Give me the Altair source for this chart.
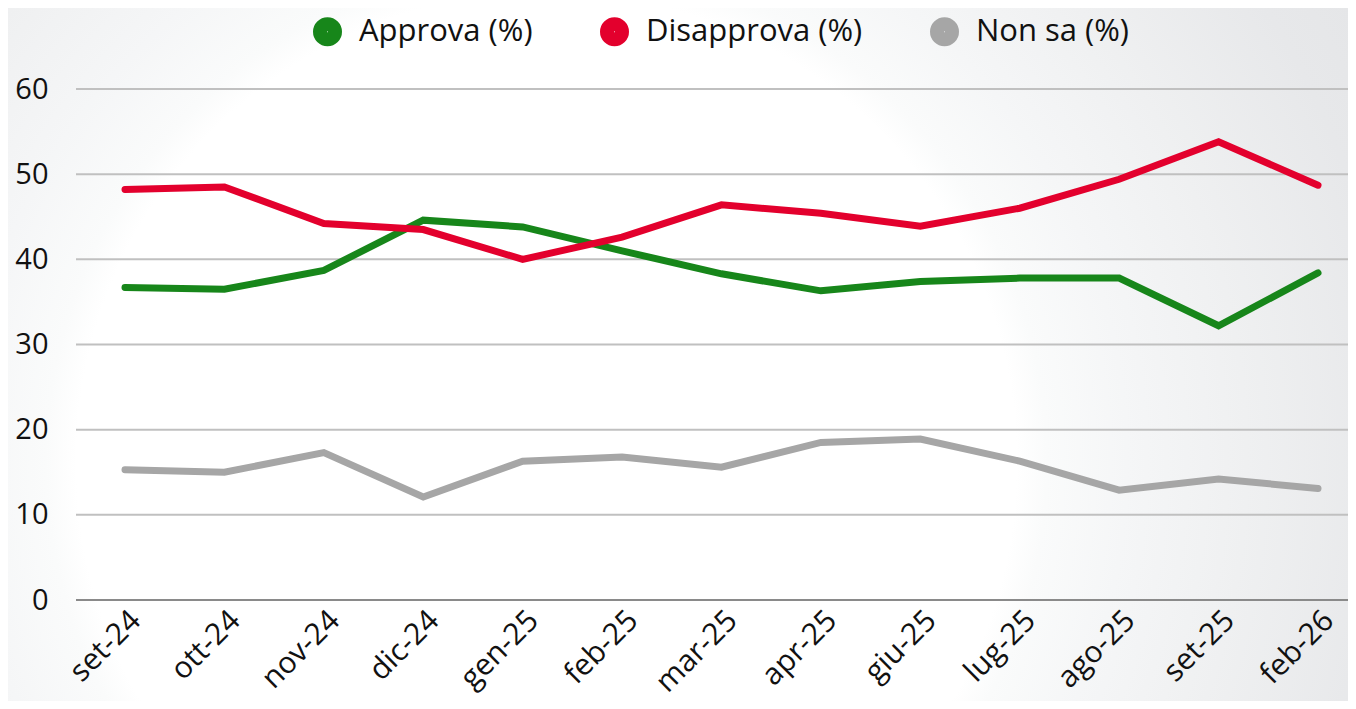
import altair as alt
import pandas as pd

months = ["set-24", "ott-24", "nov-24", "dic-24", "gen-25", "feb-25", "mar-25",
          "apr-25", "giu-25", "lug-25", "ago-25", "set-25", "feb-26"]
approva = [36.7, 36.5, 38.7, 44.6, 43.8, 41.0, 38.3, 36.3, 37.4, 37.8, 37.8, 32.2, 38.4]
disapprova = [48.2, 48.5, 44.2, 43.5, 40.0, 42.6, 46.4, 45.4, 43.9, 46.0, 49.4, 53.8, 48.7]
non_sa = [15.3, 15.0, 17.3, 12.1, 16.3, 16.8, 15.6, 18.5, 18.9, 16.3, 12.9, 14.2, 13.1]
series = ["Approva (%)", "Disapprova (%)", "Non sa (%)"]
colors = ["#17861a", "#e3002d", "#a6a6a6"]
grid_values = [10, 20, 30, 40, 50, 60]
y_ticks = [0, 10, 20, 30, 40, 50, 60]

rows = []
for name, vals in zip(series, [approva, disapprova, non_sa]):
    for i, (m, v) in enumerate(zip(months, vals)):
        rows.append({"month": m, "idx": i, "series": name, "value": v})
df = pd.DataFrame(rows)

W, H = 1272, 511
PAD = {"left": 68, "top": 81, "right": 0, "bottom": 101}
FONT = "Open Sans"

yscale = alt.Scale(domain=[0, 60], nice=False, zero=True)
yaxis = alt.Axis(values=y_ticks, title=None, grid=False, domain=False, ticks=False,
                 labelFontSize=29, labelFont=FONT, labelColor="#111111",
                 labelPadding=28, zindex=1)

# square background rect so the radial gradient stays circular
S = 1500
gradient = {
    "gradient": "radial",
    "x1": 0.359, "y1": 0.303, "r1": 0,
    "x2": 0.359, "y2": 0.303, "r2": 0.667,
    "stops": [
        {"offset": 0, "color": "#ffffff"},
        {"offset": 0.47, "color": "#ffffff"},
        {"offset": 0.50, "color": "#fafbfb"},
        {"offset": 0.58, "color": "#f5f6f7"},
        {"offset": 0.70, "color": "#eff0f1"},
        {"offset": 0.85, "color": "#e7e8ea"},
        {"offset": 1, "color": "#e3e4e6"},
    ],
}

bg = alt.Chart(pd.DataFrame({"k": [0]})).mark_rect(fill=gradient).encode(
    x=alt.value(-PAD["left"]), x2=alt.value(-PAD["left"] + S),
    y=alt.value(-PAD["top"]), y2=alt.value(-PAD["top"] + S),
)

grid = alt.Chart(pd.DataFrame({"v": grid_values})).mark_rule(
    color="#c0c0c0", strokeWidth=2
).encode(y=alt.Y("v:Q", scale=yscale, axis=yaxis))

zero = alt.Chart(pd.DataFrame({"v": [0]})).mark_rule(
    color="#8a8a8a", strokeWidth=2
).encode(y=alt.Y("v:Q", scale=yscale, axis=yaxis))

lines = alt.Chart(df).mark_line(strokeWidth=7, strokeCap="round").encode(
    x=alt.X("month:N", sort=months,
            scale=alt.Scale(type="point", domain=months, range=[49, 1242], padding=0),
            axis=alt.Axis(title=None, labelAngle=-45, labelFontSize=30, labelFont=FONT,
                          labelColor="#111111", ticks=False, domain=False, grid=False,
                          labelPadding=5, zindex=1)),
    y=alt.Y("value:Q", scale=yscale, axis=yaxis),
    color=alt.Color("series:N", sort=series,
                    scale=alt.Scale(domain=series, range=colors),
                    legend=alt.Legend(orient="none", legendX=236, legendY=-73,
                                      direction="horizontal", title=None,
                                      symbolType="circle", symbolSize=196,
                                      symbolStrokeWidth=15, labelFontSize=31,
                                      labelFont=FONT, labelColor="#111111",
                                      labelLimit=500,
                                      labelOffset=16, columnPadding=44)),
    order=alt.Order("idx:Q"),
)

chart = alt.layer(bg, grid, zero, lines).properties(
    width=W, height=H,
    autosize=alt.AutoSizeParams(type="none"),
    padding=PAD,
).configure_view(stroke=None).configure(background="#ffffff")

chart.save("out.html", embed_options={"renderer": "svg", "actions": False})
